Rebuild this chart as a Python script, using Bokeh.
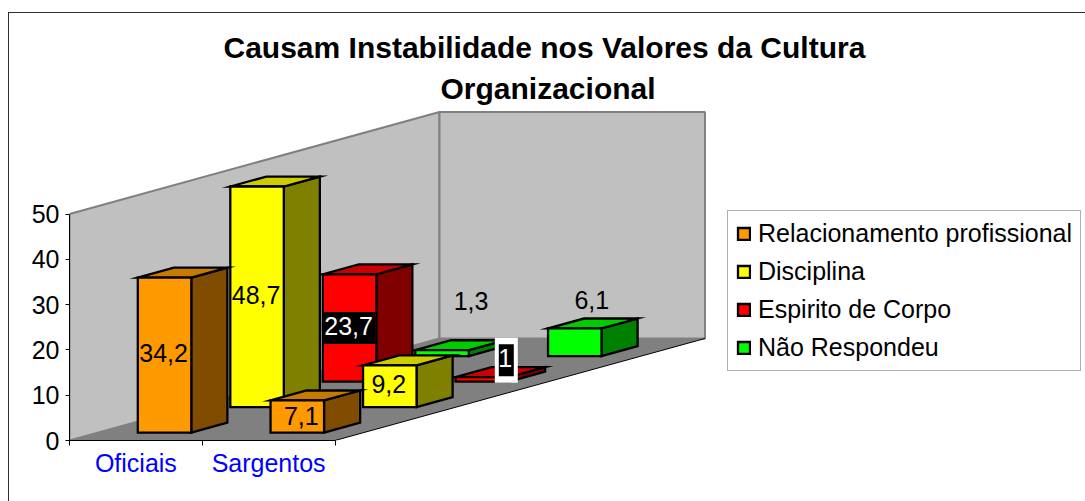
from bokeh.plotting import figure
from bokeh.embed import file_html
from bokeh.resources import INLINE
from bokeh.core.properties import value
from bokeh.models import (ColumnDataSource, FixedTicker, Legend, LegendItem, Range1d, Title)

categories = ["Oficiais", "Sargentos"]
series_names = ["Relacionamento profissional", "Disciplina", "Espirito de Corpo", "Não Respondeu"]
relacionamento = [34.2, 7.1]
disciplina = [48.7, 9.2]
espirito = [23.7, 1.0]
nao_respondeu = [1.3, 6.1]
series_values = [relacionamento, disciplina, espirito, nao_respondeu]
y_ticks = [0, 10, 20, 30, 40, 50]
title_lines = ["Causam Instabilidade nos Valores da Cultura", "Organizacional"]

front_colors = ["#FF9900", "#FFFF00", "#FF0000", "#00FF00"]
top_colors = ["#C77A00", "#CCCC00", "#CC0000", "#00CC00"]
side_colors = ["#7F4C00", "#808000", "#800000", "#008000"]

# label nudges in pixels from the centre of the front face
label_dx = [[0, 5], [0, 0], [0, 24], [30, 18]]
label_dy = [[0, 1], [0, 0], [0, -19], [-50, -40]]

FONT = "Liberation Sans"
FS = "25px"
PX_X = 132.75      # pixels per category
PX_Y = 4.53        # pixels per value unit
DEPTH_DX = 92.5    # pixels per series of depth
DEPTH_DY = 25.5
FRAME_W, FRAME_H = 1016, 331
BAR_W = 0.403
Z_FRONT, Z_BACK = 0.31, 0.70
EDGE = 2.3


def proj(cat, depth, val):
    return cat + depth * DEPTH_DX / PX_X, val + depth * DEPTH_DY / PX_Y


p = figure(frame_width=FRAME_W, frame_height=FRAME_H, output_backend="svg", toolbar_location=None,
           x_range=Range1d(0, FRAME_W / PX_X), y_range=Range1d(0, FRAME_H / PX_Y),
           min_border_left=60, min_border_right=0, min_border_top=96, min_border_bottom=62,
           border_fill_color="white", background_fill_color="white", outline_line_color=None)
p.margin = (12, 0, 0, 8)
p.styles = {"border-top": "1px solid #303030", "border-left": "1px solid #303030"}
p.grid.visible = False

p.title = None
for line, off, so in zip(reversed(title_lines), (371, 154), (10, 1)):
    p.add_layout(Title(text=line, align="left", offset=off, text_font=FONT, text_font_size="30px",
                       text_font_style="bold", text_color="black", standoff=so), "above")

# walls and floor
d = 4
wl = [proj(0, 0, 0), proj(0, 0, 50), proj(0, d, 50), proj(0, d, 0)]
wb = [proj(0, d, 0), proj(0, d, 50), proj(2, d, 50), proj(2, d, 0)]
fl = [proj(0, 0, 0), proj(2, 0, 0), proj(2, d, 0), proj(0, d, 0)]
for w in (wl, wb):
    p.patch([a for a, _ in w], [b for _, b in w], fill_color="#C0C0C0", line_color="#808080", line_width=2)
p.patch([a for a, _ in fl], [b for _, b in fl], fill_color="#808080", line_color=None)
edge = [proj(2, 0, 0), proj(2, d, 0)]
p.line([a for a, _ in edge], [b for _, b in edge], line_color="black", line_width=1)

items = []
for s in reversed(range(4)):
    xs_sides, ys_sides, fills = [], [], []
    xs_front, ys_front = [], []
    for c, v in enumerate(series_values[s]):
        c0 = c + 0.5 - BAR_W / 2
        c1 = c + 0.5 + BAR_W / 2
        zf, zb = s + Z_FRONT, s + Z_BACK
        side = [proj(c1, zf, 0), proj(c1, zb, 0), proj(c1, zb, v), proj(c1, zf, v)]
        top = [proj(c0, zf, v), proj(c1, zf, v), proj(c1, zb, v), proj(c0, zb, v)]
        front = [proj(c0, zf, 0), proj(c1, zf, 0), proj(c1, zf, v), proj(c0, zf, v)]
        for face, col in ((side, side_colors[s]), (top, top_colors[s])):
            xs_sides.append([a for a, _ in face])
            ys_sides.append([b for _, b in face])
            fills.append(col)
        xs_front.append([a for a, _ in front])
        ys_front.append([b for _, b in front])
    p.patches("x", "y", fill_color="c", line_color="black", line_width=EDGE, line_join="miter",
              source=ColumnDataSource(dict(x=xs_sides, y=ys_sides, c=fills)))
    r = p.patches(xs_front, ys_front, fill_color=front_colors[s], line_color="black", line_width=EDGE,
                  line_join="miter")
    items.insert(0, LegendItem(label=series_names[s], renderers=[r]))

# data labels
lx, ly, lt, lc, ox, oy = [], [], [], [], [], []
bx, by, bw, bh, bc = [], [], [], [], []
for s in range(4):
    for c, v in enumerate(series_values[s]):
        X, Y = proj(c + 0.5, s + Z_FRONT, v / 2)
        txt = f"{v:g}".replace(".", ",")
        white = s == 2
        dx, dy = label_dx[s][c], label_dy[s][c]
        lx.append(X); ly.append(Y); lt.append(txt); ox.append(dx - 1); oy.append(dy - 2)
        lc.append("white" if white else "black")
        if white:
            cx, cy = X + dx / PX_X, Y - dy / PX_Y
            if c == 1:
                bx.append(cx); by.append(cy); bw.append(23); bh.append(45); bc.append("white")
            bx.append(cx); by.append(cy)
            bw.append(51 if c == 0 else 15); bh.append(32); bc.append("black")
p.rect("x", "y", width="w", height="h", width_units="screen", height_units="screen", fill_color="c",
       line_color=None, source=ColumnDataSource(dict(x=bx, y=by, w=bw, h=bh, c=bc)))
p.text("x", "y", text="t", text_color="c", x_offset="ox", y_offset="oy", text_align="center",
       text_baseline="middle", text_font=value(FONT), text_font_size=value(FS),
       source=ColumnDataSource(dict(x=lx, y=ly, t=lt, c=lc, ox=ox, oy=oy)))

# axes
ya = p.yaxis[0]
ya.ticker = FixedTicker(ticks=y_ticks)
ya.bounds = (0, 50)
ya.axis_line_color = "black"
ya.major_tick_out = 4
ya.major_tick_in = 0
ya.minor_tick_line_color = None
ya.major_label_text_font = FONT
ya.major_label_text_font_size = FS
ya.major_label_text_color = "black"
ya.major_label_standoff = 6

xa = p.xaxis[0]
xa.ticker = FixedTicker(ticks=[0.5, 1.5], minor_ticks=[0, 1, 2])
xa.major_label_overrides = {0.5: categories[0], 1.5: categories[1]}
xa.bounds = (0, 2)
xa.axis_line_color = "black"
xa.major_tick_line_color = None
xa.major_tick_out = 0
xa.major_tick_in = 0
xa.minor_tick_out = 5
xa.minor_tick_in = 0
xa.minor_tick_line_color = "black"
xa.major_label_text_font = FONT
xa.major_label_text_font_size = FS
xa.major_label_text_color = "#0000FF"
xa.major_label_standoff = 3

legend = Legend(items=items, location=(658, 69), orientation="vertical", padding=8, margin=0,
                glyph_width=15, glyph_height=15, label_standoff=7, spacing=9, label_height=26,
                label_text_font=FONT, label_text_font_size=FS, label_text_color="black",
                border_line_color="#606060", border_line_width=1, background_fill_color="white",
                background_fill_alpha=1)
p.add_layout(legend)

open("out.html", "w").write(file_html(p, INLINE))
